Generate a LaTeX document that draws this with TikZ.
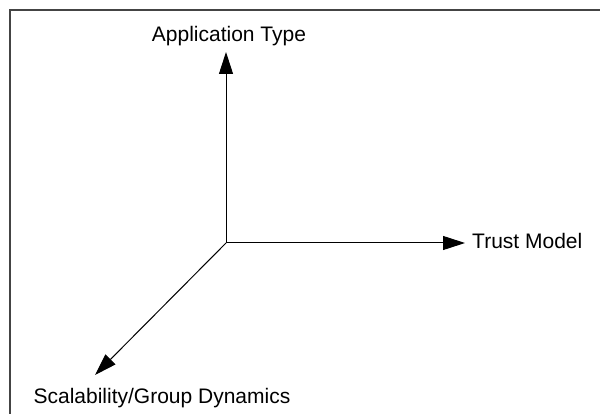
\documentclass[tikz,border=0pt]{standalone}
\usepackage{fontspec}
\setmainfont{Liberation Sans}
\usepackage{tikz}
\usetikzlibrary{arrows.meta}
\definecolor{framegray}{HTML}{444444}
\tikzset{
  axis/.style={-{Triangle[length=22pt,width=14pt]},line width=1pt,draw=black},
  axislabel/.style={inner sep=0pt,font=\fontsize{21pt}{25pt}\selectfont},
  frame/.style={line width=2pt,draw=framegray}
}

\begin{document}
\begin{tikzpicture}[x=1pt,y=-1pt]
\useasboundingbox (0,0) rectangle (600,414);
\draw[frame] (10,414) -- (10,10) -- (600,10);
\coordinate (origin) at (226,243);
\coordinate (uptip) at (226,52);
\coordinate (righttip) at (465,243);
\coordinate (downtip) at (95,375);
\node[axislabel,anchor=base] (apptype) at (229,42) {Application Type};
\node[axislabel,anchor=base west] (trust) at (472,249) {Trust Model};
\node[axislabel,anchor=base] (scal) at (162,403) {Scalability/Group Dynamics};
\draw[axis] (origin) -- (uptip);
\draw[axis] (origin) -- (righttip);
\draw[axis] (origin) -- (downtip);
\end{tikzpicture}
\end{document}
